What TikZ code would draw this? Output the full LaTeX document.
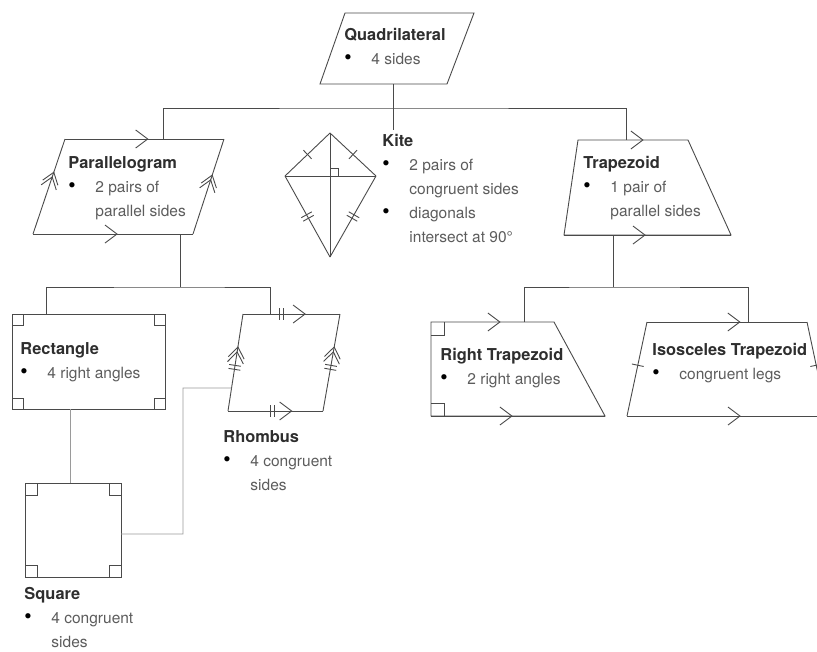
\documentclass[tikz,border=0pt]{standalone}
\usepackage{fontspec}
\setmainfont{TeX Gyre Heros}
\usepackage{xcolor}
\usepackage{tikz}
\usetikzlibrary{
    calc
}

\definecolor{linegrey}{HTML}{4A4A4A}
\definecolor{lightline}{HTML}{9A9A9A}
\definecolor{titlegrey}{HTML}{2E2E2E}
\definecolor{bodygrey}{HTML}{5C5C5C}

\newcommand{\shapename}[1]{{\fontsize{16.4}{24}\selectfont\bfseries\textcolor{titlegrey}{#1}}}
\newcommand{\bulpt}{\makebox[27pt][l]{\fontsize{21}{24}\selectfont\textcolor{black}{\textbullet}}}
\newcommand{\bulind}{\hspace*{27pt}}

\begin{document}
\begin{tikzpicture}[
    x=1pt, y=-1pt,
    line width=0.9pt,
    color=linegrey,
    txt/.style={
        anchor=base west,
        inner sep=0pt,
        align=left,
        text=bodygrey,
        font=\fontsize{15.5}{24}\selectfont
    },
    faint/.style={draw=lightline},
    chev/.pic={\draw (-12,9) -- (0,0) -- (-12,-9);},
    dchev/.pic={\draw (-11,8) -- (0,0) -- (-11,-8) (-16,8) -- (-5,0) -- (-16,-8);},
    onetick/.pic={\draw (0,-6) -- (0,6);},
    twotick/.pic={\draw (-2,-6) -- (-2,6) (2,-6) -- (2,6);}
]
\useasboundingbox (0,0) rectangle (817,651);

% corner points
\coordinate (q1) at (345,13);  \coordinate (q2) at (474,13);
\coordinate (q3) at (447,84);  \coordinate (q4) at (320,84);
\coordinate (p1) at (65,139);  \coordinate (p2) at (224,139);
\coordinate (p3) at (193,234); \coordinate (p4) at (33,234);
\coordinate (kt) at (330,133); \coordinate (kl) at (285,176);
\coordinate (kr) at (376,176); \coordinate (kb) at (330,257);
\coordinate (kc) at (330,176);
\coordinate (t1) at (578,140); \coordinate (t2) at (688,140);
\coordinate (t3) at (731,235); \coordinate (t4) at (564,235);
\coordinate (r1) at (12,314);  \coordinate (r2) at (165,314);
\coordinate (r3) at (165,409); \coordinate (r4) at (12,409);
\coordinate (h1) at (243,314); \coordinate (h2) at (340,314);
\coordinate (h3) at (323,411); \coordinate (h4) at (228,411);
\coordinate (s1) at (25,483);  \coordinate (s2) at (121,483);
\coordinate (s3) at (121,577); \coordinate (s4) at (25,577);
\coordinate (rt1) at (431,322); \coordinate (rt2) at (554,322);
\coordinate (rt3) at (605,416); \coordinate (rt4) at (431,416);
\coordinate (it1) at (647,322); \coordinate (it2) at (807,322);
\coordinate (it3) at (827,416); \coordinate (it4) at (627,416);

% labels (base = baseline of the last line)
\node[txt] (quadtxt) at (344,64) {\shapename{Quadrilateral}\\\bulpt 4 sides};
\node[txt] (paratxt) at (68,216) {\shapename{Parallelogram}\\\bulpt 2 pairs of\\\bulind parallel sides};
\node[txt] (kitetxt) at (382,242) {\shapename{Kite}\\\bulpt 2 pairs of\\\bulind congruent sides\\\bulpt diagonals\\\bulind intersect at 90°};
\node[txt] (traptxt) at (583,216) {\shapename{Trapezoid}\\\bulpt 1 pair of\\\bulind parallel sides};
\node[txt] (recttxt) at (20,378) {\shapename{Rectangle}\\\bulpt 4 right angles};
\node[txt] (rhomtxt) at (223,490) {\shapename{Rhombus}\\\bulpt 4 congruent\\\bulind sides};
\node[txt] (sqtxt) at (24,647) {\shapename{Square}\\\bulpt 4 congruent\\\bulind sides};
\node[txt] (rttxt) at (440,384) {\shapename{Right Trapezoid}\\\bulpt 2 right angles};
\node[txt] (ittxt) at (652,379) {\shapename{Isosceles Trapezoid}\\\bulpt congruent legs};

% shapes
\draw (q1) -- (q2) -- (q3) -- (q4) -- cycle;

\draw (p1) -- (p2) pic[pos=.52,sloped]{chev};
\draw (p4) -- (p3) pic[pos=.525,sloped]{chev};
\draw (p4) -- (p1) pic[pos=.65,sloped]{dchev};
\draw (p3) -- (p2) pic[pos=.62,sloped]{dchev};

\draw (kt) -- (kl) pic[pos=.5,sloped]{onetick};
\draw (kt) -- (kr) pic[pos=.5,sloped]{onetick};
\draw (kl) -- (kb) pic[pos=.5,sloped]{twotick};
\draw (kr) -- (kb) pic[pos=.5,sloped]{twotick};
\draw (kt) -- (kb) (kl) -- (kr);
\draw ($(kc)+(0,-8)$) -| ($(kc)+(8,0)$);

\draw (t1) -- (t2) pic[pos=.59,sloped]{chev} -- (t3) -- (t4) -- cycle;
\draw (t4) -- (t3) pic[pos=.485,sloped]{chev};

\draw (r1) rectangle (r3);
\draw (h1) -- (h2) pic[pos=.40,sloped]{twotick} pic[pos=.64,sloped]{chev};
\draw (h4) -- (h3) pic[pos=.47,sloped]{twotick} pic[pos=.67,sloped]{chev};
\draw (h4) -- (h1) pic[pos=.45,sloped]{twotick} pic[pos=.66,sloped]{dchev};
\draw (h3) -- (h2) pic[pos=.45,sloped]{twotick} pic[pos=.66,sloped]{dchev};

\draw (s1) rectangle (s3);

\draw (rt1) -- (rt2) pic[pos=.56,sloped]{chev} -- (rt3) -- (rt4) -- cycle;
\draw (rt4) -- (rt3) pic[pos=.465,sloped]{chev};

\draw (it1) -- (it2) pic[pos=.58,sloped]{chev};
\draw (it4) -- (it3) pic[pos=.565,sloped]{chev};
\draw (it4) -- (it1) pic[pos=.54,sloped]{onetick};
\draw (it3) -- (it2) pic[pos=.54,sloped]{onetick};

% right-angle marks
\foreach \c/\sx/\sy/\m in {r1/1/1/11, r2/-1/1/11, r3/-1/-1/11, r4/1/-1/11,
                           s1/1/1/12, s2/-1/1/12, s3/-1/-1/12, s4/1/-1/12,
                           rt1/1/1/13, rt4/1/-1/13}
    \draw ($(\c)+(0,\m*\sy)$) -| ($(\c)+(\m*\sx,0)$);

% connectors
\coordinate (quadB) at (393,84);   \coordinate (bus1) at (393,108);
\coordinate (paraT) at (163,139);  \coordinate (trapT) at (626,140);
\coordinate (paraB) at (180,234);  \coordinate (bus2) at (180,287);
\coordinate (rectT) at (46,314);   \coordinate (rhomT) at (270,314);
\coordinate (trapB) at (613,235);  \coordinate (bus3) at (613,287);
\coordinate (rtT) at (524,322);    \coordinate (itT) at (748,322);
\coordinate (rectB) at (70,409);   \coordinate (sqT) at (70,483);
\coordinate (sqR) at (121,534);    \coordinate (kink) at (183,388);
\coordinate (rhomL) at ($(h1)!.763!(h4)$);

\draw (quadB) -- (bus1);
\draw (paraT) |- (bus1) -| (trapT);
\draw (bus1) -- ([yshift=3pt]bus1 |- kitetxt.north);
\draw (paraB) -- (bus2);
\draw (rectT) |- (bus2) -| (rhomT);
\draw (trapB) -- (bus3);
\draw (rtT) |- (bus3) -| (itT);
\draw[faint] (rectB) -- (sqT);
\draw[faint] (sqR) -| (kink) -- (rhomL);

\end{tikzpicture}
\end{document}
